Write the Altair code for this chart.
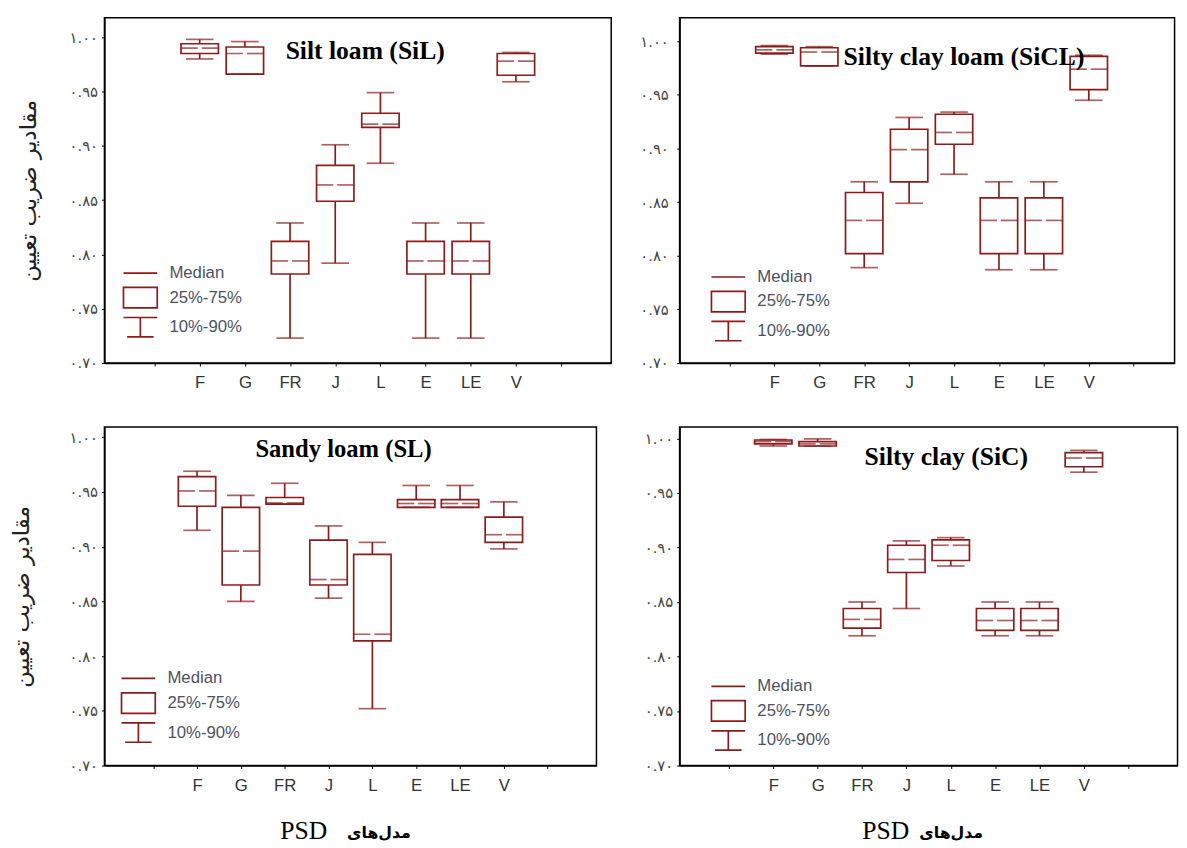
import altair as alt
import pandas as pd

# ---------------- data ----------------
CATS = ["F", "G", "FR", "J", "L", "E", "LE", "V"]
X_TICK_NAMES = ["", "F", "G", "FR", "J", "L", "E", "LE", "V", ""]
Y_TICKS = [0.70, 0.75, 0.80, 0.85, 0.90, 0.95, 1.00]
Y_TICK_LABELS = ["۰.۷۰", "۰.۷۵", "۰.۸۰", "۰.۸۵", "۰.۹۰", "۰.۹۵", "۱.۰۰"]

LEG_ITEMS = ["Median", "25%-75%", "10%-90%"]

Y_TITLE = "مقادیر ضریب تعیین"
X_TITLE_LATIN = "PSD"
X_TITLE_FA = "مدل‌های"

# Silt loam (SiL)
SIL_P10 = [0.980, 0.966, 0.723, 0.792, 0.884, 0.723, 0.723, 0.959]
SIL_P25 = [0.985, 0.966, 0.782, 0.849, 0.917, 0.782, 0.782, 0.965]
SIL_P50 = [0.990, 0.985, 0.794, 0.864, 0.920, 0.794, 0.794, 0.978]
SIL_P75 = [0.994, 0.991, 0.812, 0.882, 0.930, 0.812, 0.812, 0.985]
SIL_P90 = [0.998, 0.996, 0.829, 0.901, 0.949, 0.829, 0.829, 0.986]

# Silty clay loam (SiCL)
SICL_P10 = [0.988, 0.977, 0.789, 0.849, 0.876, 0.787, 0.787, 0.945]
SICL_P25 = [0.989, 0.977, 0.802, 0.869, 0.904, 0.802, 0.802, 0.955]
SICL_P50 = [0.992, 0.990, 0.833, 0.899, 0.915, 0.833, 0.833, 0.974]
SICL_P75 = [0.995, 0.994, 0.859, 0.918, 0.932, 0.854, 0.854, 0.986]
SICL_P90 = [0.996, 0.995, 0.869, 0.929, 0.934, 0.869, 0.869, 0.987]

# Sandy loam (SL)
SL_P10 = [0.915, 0.850, 0.939, 0.853, 0.752, 0.936, 0.936, 0.898]
SL_P25 = [0.937, 0.865, 0.939, 0.865, 0.814, 0.936, 0.936, 0.904]
SL_P50 = [0.951, 0.896, 0.940, 0.870, 0.820, 0.9395, 0.9395, 0.911]
SL_P75 = [0.964, 0.936, 0.945, 0.906, 0.893, 0.943, 0.943, 0.927]
SL_P90 = [0.969, 0.947, 0.958, 0.919, 0.904, 0.956, 0.956, 0.941]

# Silty clay (SiC)
SIC_P10 = [0.993, 0.993, 0.819, 0.844, 0.883, 0.819, 0.819, 0.969]
SIC_P25 = [0.995, 0.993, 0.826, 0.877, 0.888, 0.824, 0.824, 0.974]
SIC_P50 = [0.997, 0.995, 0.834, 0.889, 0.902, 0.833, 0.833, 0.982]
SIC_P75 = [0.9985, 0.997, 0.844, 0.902, 0.907, 0.844, 0.844, 0.987]
SIC_P90 = [0.999, 0.9995, 0.850, 0.906, 0.909, 0.850, 0.850, 0.989]

# ---------------- style ----------------
C = "#8B1C1C"
SW = 1.7
BOX_W = 38
CAP_W = 28
LEG_PATHS = [
    "M-1.4,0H1.4",
    "M-1.4,-0.85H1.4V0.85H-1.4Z",
    "M-1.4,-0.8H1.4M0,-0.8V0.8M-1.1,0.8H1.1",
]

x_label_expr = "[" + ",".join("'%s'" % s for s in X_TICK_NAMES) + "][datum.value - 1]"
y_label_expr = "[" + ",".join("'%s'" % s for s in Y_TICK_LABELS) + "][round((datum.value - 0.7) / 0.05)]"


def panel(title, p10, p25, p50, p75, p90, w, h, xmax, ymax, title_xy, title_size,
          legend_xy, y_title=None, y_title_pad=30, y_label_pad=4, x_title=False):
    df = pd.DataFrame({"cat": CATS, "pos": list(range(2, 10)),
                       "p10": p10, "p25": p25, "p50": p50, "p75": p75, "p90": p90})
    base = alt.Chart(df)
    xs = alt.Scale(domain=[0, xmax], nice=False, zero=False)
    ys = alt.Scale(domain=[0.70, ymax], nice=False, zero=False)

    xaxis_kw = dict(values=list(range(1, 11)), labelExpr=x_label_expr, grid=False,
                    labelFont="Liberation Sans", labelFontSize=17, labelColor="#333333",
                    tickSize=3, tickColor="black", domainColor="black", domainWidth=1.5,
                    labelPadding=9, labelAngle=0)
    if x_title:
        xaxis_kw.update(title=X_TITLE_LATIN, titleFont="Liberation Serif", titleFontSize=26,
                        titleFontWeight="normal", titleColor="black",
                        titleX=title_xy[2], titleY=66, titleBaseline="middle",
                        titleAlign="center", titleAnchor="start")
    else:
        xaxis_kw.update(title=None)
    yaxis_kw = dict(values=Y_TICKS, labelExpr=y_label_expr, grid=False,
                    labelFont="DejaVu Sans", labelFontSize=15, labelColor="#444444",
                    tickSize=3, tickColor="black", domainColor="black", domainWidth=1.5,
                    labelPadding=y_label_pad)
    if y_title:
        yaxis_kw.update(title=y_title, titleFont="DejaVu Sans", titleFontSize=23,
                        titleFontWeight="normal", titleColor="#222222",
                        titlePadding=y_title_pad)
    else:
        yaxis_kw.update(title=None)

    X = alt.X("pos:Q", scale=xs, axis=alt.Axis(**xaxis_kw))

    def Y(f):
        return alt.Y(f + ":Q", scale=ys, axis=alt.Axis(**yaxis_kw))

    low = base.mark_rule(color=C, strokeWidth=SW).encode(x=X, y=Y("p10"), y2="p25:Q")
    high = base.mark_rule(color=C, strokeWidth=SW).encode(x=X, y=Y("p75"), y2="p90:Q")
    box = base.mark_bar(size=BOX_W, fill="white", stroke=C, strokeWidth=SW).encode(
        x=X, y=Y("p25"), y2="p75:Q")
    cap_lo = base.mark_tick(orient="horizontal", size=CAP_W, thickness=SW, color=C).encode(
        x=X, y=Y("p10"))
    cap_hi = base.mark_tick(orient="horizontal", size=CAP_W, thickness=SW, color=C).encode(
        x=X, y=Y("p90"))
    med_l = base.mark_tick(orient="horizontal", size=17, thickness=SW, color=C,
                           xOffset=-10.5).encode(x=X, y=Y("p50"))
    med_r = base.mark_tick(orient="horizontal", size=17, thickness=SW, color=C,
                           xOffset=10.5).encode(x=X, y=Y("p50"))

    tdf = pd.DataFrame({"t": [title]})
    ttl = alt.Chart(tdf).mark_text(font="Liberation Serif", fontWeight="bold", fontSize=title_size,
                                   color="black", align="center", baseline="middle").encode(
        x=alt.value(title_xy[0]), y=alt.value(title_xy[1]), text="t:N")

    ldf = pd.DataFrame({"item": LEG_ITEMS})
    leg = alt.Chart(ldf).mark_point(opacity=0, filled=False, color=C).encode(
        x=alt.value(1), y=alt.value(1),
        shape=alt.Shape("item:N", scale=alt.Scale(domain=LEG_ITEMS, range=LEG_PATHS),
                        legend=alt.Legend(orient="none", legendX=legend_xy[0], legendY=legend_xy[1],
                                          title=None, symbolSize=600, symbolStrokeWidth=SW,
                                          symbolStrokeColor=C, symbolFillColor="transparent",
                                          symbolOpacity=1,
                                          labelFont="Liberation Sans", labelFontSize=17,
                                          labelColor="#4d5262", labelOffset=16, rowPadding=2)))
    layers = [low, high, box, cap_lo, cap_hi, med_l, med_r, ttl, leg]
    if x_title:
        fdf = pd.DataFrame({"t": [X_TITLE_FA]})
        fa = alt.Chart(fdf).mark_text(font="DejaVu Sans", fontWeight="bold", fontSize=16,
                                      color="black", align="center", baseline="middle").encode(
            x=alt.value(title_xy[3]), y=alt.value(h + 69), text="t:N")
        layers.append(fa)
    return alt.layer(*layers).properties(width=w, height=h)


tl = panel("Silt loam (SiL)", SIL_P10, SIL_P25, SIL_P50, SIL_P75, SIL_P90,
           515, 351, 11, 1.018, (265, 34), 26, (23, 246), y_title=Y_TITLE, y_title_pad=29)
tr = panel("Silty clay loam (SiCL)", SICL_P10, SICL_P25, SICL_P50, SICL_P75, SICL_P90,
           503, 351, 10.8, 1.022, (289, 40), 26, (36, 250), y_label_pad=8.5)
bl = panel("Sandy loam (SL)", SL_P10, SL_P25, SL_P50, SL_P75, SL_P90,
           500, 344, 11, 1.0094, (243, 22, 202, 279), 25, (21, 242), y_title=Y_TITLE,
           y_title_pad=36, x_title=True)
br = panel("Silty clay (SiC)", SIC_P10, SIC_P25, SIC_P50, SIC_P75, SIC_P90,
           506, 344, 11, 1.0104, (271, 31, 209, 276), 26, (36, 250), y_label_pad=4, x_title=True)

left = alt.vconcat(tl, bl, spacing=33).resolve_scale(shape="independent").resolve_legend(shape="independent")
right = alt.vconcat(tr, br, spacing=33).resolve_scale(shape="independent").resolve_legend(shape="independent")

chart = alt.hconcat(left, right, spacing=26.5).resolve_scale(shape="independent").resolve_legend(
    shape="independent").properties(
    padding={"left": 2, "top": 0, "right": 0, "bottom": 0}, background="white"
).configure_view(stroke="black", strokeWidth=1.5)

chart.save("out.html", embed_options={"renderer": "svg", "actions": False})
